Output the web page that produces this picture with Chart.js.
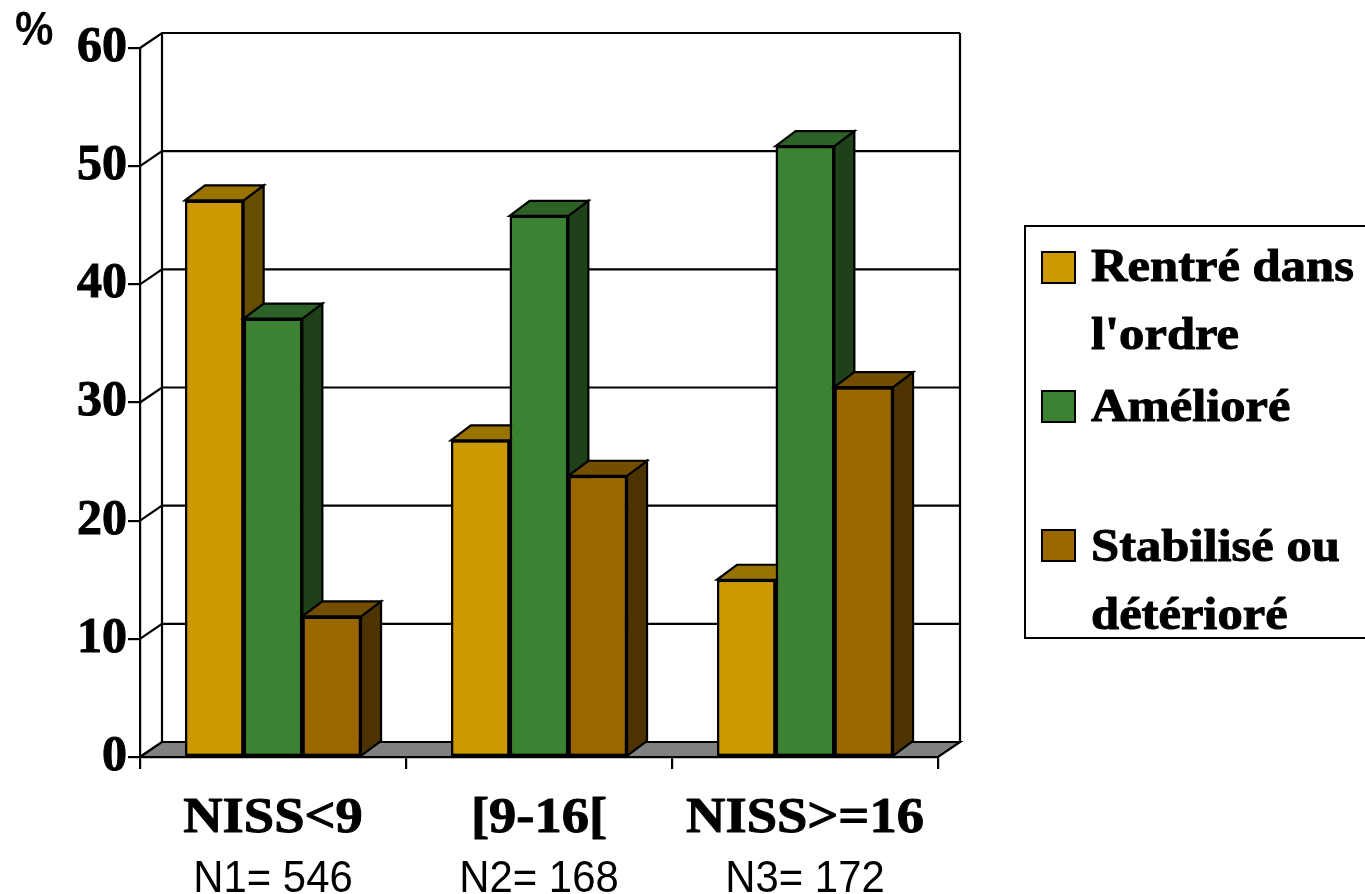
<!DOCTYPE html>
<html>
<head>
<meta charset="utf-8">
<script src="https://cdn.jsdelivr.net/npm/chart.js@4.4.1/dist/chart.umd.min.js"></script>
<style>
  html, body { margin: 0; padding: 0; background: #fff; overflow: hidden; }
  #wrap { position: relative; width: 1365px; height: 894px; }
</style>
</head>
<body>
<div id="wrap"><canvas id="c" width="1365" height="894"></canvas></div>
<script>
// Outcome by injury severity (NISS), percentage of patients in each group
const categories = ['NISS<9', '[9-16[', 'NISS>=16'];
const sampleSizes = ['N1= 546', 'N2= 168', 'N3= 172'];
const seriesNames = [['Rentré dans', "l'ordre"], ['Amélioré'], ['Stabilisé ou', 'détérioré']];
const rentre = [47.1, 26.8, 15.0];
const ameliore = [37.1, 45.8, 51.7];
const stabilise = [11.9, 23.8, 31.3];
const yTicks = [0, 10, 20, 30, 40, 50, 60];

const frontColors = ['#CC9900', '#3B8232', '#996600'];

// depth offsets of the oblique projection
const WALL_DX = 22, WALL_DY = -15;
const BAR_DX = 20, BAR_DY = -15;

function shade(hex, f) {
  const n = parseInt(hex.slice(1), 16);
  const r = Math.round(((n >> 16) & 255) * f);
  const g = Math.round(((n >> 8) & 255) * f);
  const b = Math.round((n & 255) * f);
  return `rgb(${r},${g},${b})`;
}

function stretchedText(ctx, text, x, y, font, sx, align, heavy) {
  ctx.save();
  ctx.font = font;
  ctx.textAlign = align;
  ctx.textBaseline = 'alphabetic';
  ctx.fillStyle = '#000';
  ctx.translate(x, y);
  ctx.scale(sx, 1);
  ctx.fillText(text, 0, 0);
  if (heavy) {
    ctx.lineWidth = heavy;
    ctx.strokeStyle = '#000';
    ctx.lineJoin = 'round';
    ctx.strokeText(text, 0, 0);
  }
  ctx.restore();
}

const box3d = {
  id: 'box3d',
  beforeDatasetsDraw(chart) {
    const { ctx, chartArea: a, scales: { y } } = chart;
    const bl = a.left + WALL_DX, br = a.right + WALL_DX;
    const bt = a.top + WALL_DY, bb = a.bottom + WALL_DY;
    ctx.save();
    ctx.lineWidth = 2.2;
    ctx.strokeStyle = '#000';
    ctx.fillStyle = '#fff';
    ctx.fillRect(bl, bt, br - bl, bb - bt);
    // gridlines running along the side wall and across the back wall
    yTicks.forEach(v => {
      const py = y.getPixelForValue(v);
      ctx.beginPath();
      ctx.moveTo(a.left, py);
      ctx.lineTo(bl, py + WALL_DY);
      ctx.lineTo(br, py + WALL_DY);
      ctx.stroke();
    });
    ctx.beginPath();
    ctx.moveTo(bl, bb); ctx.lineTo(bl, bt);
    ctx.moveTo(br, bb); ctx.lineTo(br, bt);
    ctx.stroke();
    // floor
    ctx.beginPath();
    ctx.moveTo(a.left, a.bottom);
    ctx.lineTo(bl, bb);
    ctx.lineTo(br, bb);
    ctx.lineTo(a.right, a.bottom);
    ctx.closePath();
    ctx.fillStyle = '#808080';
    ctx.fill();
    ctx.stroke();
    ctx.restore();
  },
  afterDatasetsDraw(chart) {
    const ctx = chart.ctx;
    ctx.save();
    ctx.lineWidth = 2.2;
    ctx.strokeStyle = '#000';
    ctx.lineJoin = 'miter';
    for (let d = 0; d < chart.data.datasets.length; d++) {
      const meta = chart.getDatasetMeta(d);
      const col = frontColors[d];
      meta.data.forEach(bar => {
        const { x, y, base, width } = bar.getProps(['x', 'y', 'base', 'width'], true);
        const l = x - width / 2, r = x + width / 2;
        // right side face
        ctx.beginPath();
        ctx.moveTo(r, base);
        ctx.lineTo(r, y);
        ctx.lineTo(r + BAR_DX, y + BAR_DY);
        ctx.lineTo(r + BAR_DX, base + BAR_DY);
        ctx.closePath();
        ctx.fillStyle = shade(col, 0.5);
        ctx.fill();
        ctx.stroke();
        // top face
        ctx.beginPath();
        ctx.moveTo(l, y);
        ctx.lineTo(l + BAR_DX, y + BAR_DY);
        ctx.lineTo(r + BAR_DX, y + BAR_DY);
        ctx.lineTo(r, y);
        ctx.closePath();
        ctx.fillStyle = shade(col, 0.75);
        ctx.fill();
        ctx.stroke();
        // front face on top
        bar.draw(ctx);
      });
    }
    ctx.restore();
  },
  afterDraw(chart) {
    const { ctx, scales: { x } } = chart;
    // category names and group sizes
    categories.forEach((c, i) => {
      const px = x.getPixelForValue(i);
      stretchedText(ctx, c, px, 832, 'bold 50px "Liberation Serif"', 1.09, 'center', 1);
      stretchedText(ctx, sampleSizes[i], px, 892, '45px "Liberation Sans"', 0.93, 'center', 0);
    });
    // unit
    stretchedText(ctx, '%', 15, 45, 'bold 48px "Liberation Sans"', 0.9, 'left', 0);
    // legend
    ctx.save();
    ctx.lineWidth = 2;
    ctx.strokeStyle = '#000';
    ctx.strokeRect(1025, 226, 400, 412);
    seriesNames.forEach((lines, i) => {
      const top = 252 + 139 * i;
      ctx.fillStyle = frontColors[i];
      ctx.fillRect(1042, top, 33, 31);
      ctx.strokeRect(1042, top, 33, 31);
      lines.forEach((t, k) => {
        stretchedText(ctx, t, 1091, 281 + 140 * i + 68 * k, 'bold 46px "Liberation Serif"', 1.1, 'left', 1);
      });
    });
    ctx.restore();
  }
};

const seriesValues = [rentre, ameliore, stabilise];

new Chart(document.getElementById('c'), {
  type: 'bar',
  data: {
    labels: categories,
    datasets: seriesValues.map((vals, i) => ({
      label: seriesNames[i].join(' '),
      data: vals,
      backgroundColor: frontColors[i],
      borderColor: '#000',
      borderWidth: 2.5,
      borderSkipped: false,
      categoryPercentage: 0.662,
      barPercentage: 1.0
    }))
  },
  options: {
    responsive: false,
    animation: false,
    devicePixelRatio: 1,
    layout: { padding: { top: 48, right: 427, bottom: 0, left: 0 } },
    plugins: { legend: { display: false }, tooltip: { enabled: false } },
    scales: {
      x: {
        offset: true,
        grid: { display: true, offset: true, drawOnChartArea: false, drawTicks: true, tickLength: 12, color: '#000', lineWidth: 2.2 },
        border: { display: true, color: '#000', width: 2.2 },
        ticks: { display: false },
        afterFit(s) { s.height = 137; }
      },
      y: {
        min: 0,
        max: 60,
        ticks: {
          stepSize: 10,
          color: '#000',
          padding: 1,
          textStrokeColor: '#000',
          textStrokeWidth: 1,
          font: { family: 'Liberation Serif', weight: 'bold', size: 50 }
        },
        grid: { drawOnChartArea: false, drawTicks: true, tickLength: 12, color: '#000', lineWidth: 2.2 },
        border: { display: true, color: '#000', width: 2.2 },
        afterFit(s) { s.width = 140; }
      }
    }
  },
  plugins: [box3d]
});
</script>
</body>
</html>
